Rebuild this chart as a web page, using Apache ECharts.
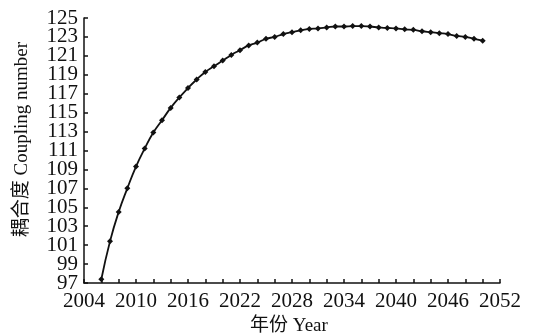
<!DOCTYPE html>
<html>
<head>
<meta charset="utf-8">
<script src="https://cdn.jsdelivr.net/npm/echarts@6/dist/echarts.min.js"></script>
<style>
  html, body { margin: 0; padding: 0; background: #fff; }
  #chart { width: 535px; height: 336px; }
</style>
</head>
<body>
<div id="chart"></div>
<script>
// years (x) and coupling numbers (y)
var years = [2006, 2007, 2008, 2009, 2010, 2011, 2012, 2013, 2014, 2015,
  2016, 2017, 2018, 2019, 2020, 2021, 2022, 2023, 2024, 2025,
  2026, 2027, 2028, 2029, 2030, 2031, 2032, 2033, 2034, 2035,
  2036, 2037, 2038, 2039, 2040, 2041, 2042, 2043, 2044, 2045,
  2046, 2047, 2048, 2049, 2050];
var coupling = [97.4, 101.4, 104.5, 107.0, 109.3, 111.2, 112.9, 114.2, 115.5, 116.6,
  117.6, 118.5, 119.3, 119.9, 120.5, 121.1, 121.6, 122.1, 122.4, 122.8,
  123.0, 123.3, 123.5, 123.7, 123.85, 123.9, 124.0, 124.1, 124.1, 124.15,
  124.15, 124.1, 124.0, 123.95, 123.9, 123.8, 123.75, 123.6, 123.5, 123.4,
  123.3, 123.1, 123.0, 122.8, 122.6];

// axis ticks / labels
var xLabels = [2004, 2010, 2016, 2022, 2028, 2034, 2040, 2046, 2052];
var xTicks = [2004, 2006, 2008, 2010, 2012, 2014, 2016, 2018, 2020, 2022, 2024, 2026,
  2028, 2030, 2032, 2034, 2036, 2038, 2040, 2042, 2044, 2046, 2048, 2050, 2052];
var yLabels = [97, 99, 101, 103, 105, 107, 109, 111, 113, 115, 117, 119, 121, 123, 125];

var font = "'Liberation Serif', 'Noto Sans CJK SC', serif";

// labels are tight, so echarts drops neighbours of min/max; split them over two stacked axes
var yLabelsA = yLabels.filter(function (v, i) { return i % 2 === 1; });
var yLabelsB = yLabels.filter(function (v, i) { return i % 2 === 0; });

var myChart = echarts.init(document.getElementById('chart'));

var pts = years.map(function (y, i) { return [y, coupling[i]]; });

function yLabelStyle(vals) {
  return {
    customValues: vals, showMinLabel: true, showMaxLabel: true, hideOverlap: false,
    margin: 6, fontFamily: font, fontSize: 21, color: '#111',
    formatter: function (v) { return String(v); }
  };
}

var option = {
  backgroundColor: '#fff',
  animation: false,
  grid: { left: 84, right: 35, top: 18, bottom: 53, containLabel: false, outerBoundsMode: 'none' },
  xAxis: {
    type: 'value',
    min: 2004,
    max: 2052,
    name: '年份 Year',
    nameLocation: 'middle',
    nameGap: 33,
    nameTextStyle: { fontFamily: font, fontSize: 19, color: '#111', padding: [0, 6, 0, 0] },
    axisLine: { show: true, lineStyle: { color: '#111', width: 1.5 } },
    axisTick: { show: true, inside: true, length: 4, customValues: xTicks, lineStyle: { color: '#111', width: 1.5 } },
    axisLabel: {
      customValues: xLabels, showMinLabel: true, showMaxLabel: true, hideOverlap: false,
      margin: 8, fontFamily: font, fontSize: 21, color: '#111',
      formatter: function (v) { return String(v); }
    },
    splitLine: { show: false }
  },
  yAxis: [
    {
      type: 'value',
      min: 97,
      max: 125,
      position: 'left',
      name: '耦合度 Coupling number',
      nameLocation: 'middle',
      nameGap: 52,
      nameTextStyle: { fontFamily: font, fontSize: 19, color: '#111', padding: [0, 0, 0, 22] },
      axisLine: { show: true, lineStyle: { color: '#111', width: 1.5 } },
      axisTick: { show: true, inside: true, length: 4, customValues: yLabels, lineStyle: { color: '#111', width: 1.5 } },
      axisLabel: yLabelStyle(yLabelsA),
      splitLine: { show: false }
    },
    {
      type: 'value',
      min: 97,
      max: 125,
      position: 'left',
      offset: 0,
      axisLine: { show: false },
      axisTick: { show: false },
      axisLabel: yLabelStyle(yLabelsB),
      splitLine: { show: false }
    }
  ],
  series: [
    {
      type: 'line',
      data: pts,
      smooth: true,
      symbol: 'diamond',
      symbolSize: 6,
      itemStyle: { color: '#111' },
      lineStyle: { color: '#111', width: 1.8 }
    }
  ]
};

myChart.setOption(option);
</script>
</body>
</html>
